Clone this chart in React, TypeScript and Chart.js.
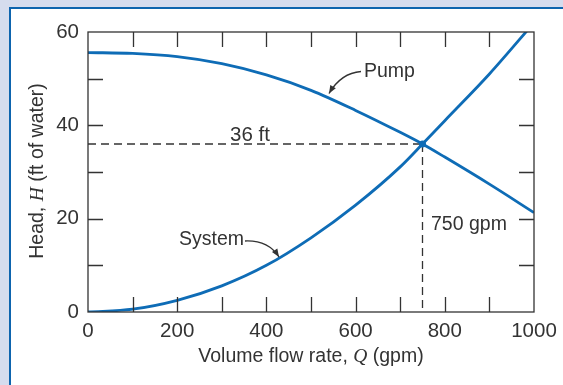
import React, { useEffect, useRef } from "react";
import { Chart, registerables } from "chart.js";

Chart.register(...registerables);

// ---- data ----
const flowQ = [0, 100, 200, 300, 400, 500, 600, 700, 750, 800, 900, 1000];
const pumpHead = [55.6, 55.4, 54.7, 53.2, 50.8, 47.5, 43.2, 38.5, 36.0, 33.2, 27.4, 21.3];
const systemHead = [0, 0.6, 2.5, 5.6, 10.0, 15.9, 22.9, 31.1, 36.0, 41.0, 51.0, 62.0];
const xTickValues = [0, 200, 400, 600, 800, 1000];
const yTickValues = [0, 20, 40, 60];
const xMarkTicks = [100, 200, 300, 400, 500, 600, 700, 800, 900];
const yMarkTicks = [10, 20, 30, 40, 50];
const operatingQ = 750;
const operatingH = 36;

const LINE = "#0e6cb6";
const INK = "#333333";
const SANS = "'Liberation Sans', Arial, sans-serif";
const SERIF = "'Liberation Serif', 'Times New Roman', serif";
const FS = 19.5;
const TFS = 20.5;

function arrow(ctx: CanvasRenderingContext2D, sx: number, sy: number, cx: number, cy: number, ex: number, ey: number) {
  ctx.beginPath();
  ctx.moveTo(sx, sy);
  ctx.quadraticCurveTo(cx, cy, ex, ey);
  ctx.stroke();
  const ang = Math.atan2(ey - cy, ex - cx);
  const len = 8, hw = 3.2;
  ctx.beginPath();
  ctx.moveTo(ex, ey);
  ctx.lineTo(ex - len * Math.cos(ang) + hw * Math.sin(ang), ey - len * Math.sin(ang) - hw * Math.cos(ang));
  ctx.lineTo(ex - len * Math.cos(ang) - hw * Math.sin(ang), ey - len * Math.sin(ang) + hw * Math.cos(ang));
  ctx.closePath();
  ctx.fill();
}

function mixed(ctx: CanvasRenderingContext2D, parts: [string, string][], cx: number, baseline: number) {
  let total = 0;
  for (const [t, f] of parts) {
    ctx.font = f;
    total += ctx.measureText(t).width;
  }
  let x = cx - total / 2;
  ctx.textAlign = "left";
  ctx.textBaseline = "alphabetic";
  for (const [t, f] of parts) {
    ctx.font = f;
    ctx.fillText(t, x, baseline);
    x += ctx.measureText(t).width;
  }
}

const decor = {
  id: "decor",
  beforeDraw(chart: any) {
    const { ctx, width, height } = chart;
    ctx.save();
    ctx.fillStyle = "#d5dcee";
    ctx.fillRect(0, 0, width, height);
    ctx.fillStyle = "#ffffff";
    ctx.fillRect(11, 9, width - 11, height - 9);
    ctx.fillStyle = "#0d64ae";
    ctx.fillRect(9, 7, width - 9, 2);
    ctx.fillRect(9, 7, 2, height - 7);
    ctx.restore();
  },
  beforeDatasetsDraw(chart: any) {
    const { ctx } = chart;
    const xs = chart.scales.x, ys = chart.scales.y;
    const px = xs.getPixelForValue(operatingQ);
    const py = ys.getPixelForValue(operatingH);
    ctx.save();
    ctx.strokeStyle = INK;
    ctx.lineWidth = 1.3;
    ctx.setLineDash([8, 5]);
    ctx.beginPath();
    ctx.moveTo(xs.left, py);
    ctx.lineTo(px, py);
    ctx.stroke();
    ctx.beginPath();
    ctx.moveTo(px, py);
    ctx.lineTo(px, ys.bottom);
    ctx.stroke();
    ctx.restore();
  },
  afterDraw(chart: any) {
    const { ctx } = chart;
    const xs = chart.scales.x, ys = chart.scales.y;
    const { left, right, top, bottom } = chart.chartArea;
    ctx.save();
    // frame
    ctx.strokeStyle = INK;
    ctx.lineWidth = 1.3;
    ctx.strokeRect(left, top, right - left, bottom - top);
    // inner ticks
    const tl = 15;
    ctx.beginPath();
    for (const v of xMarkTicks) {
      const p = Math.round(xs.getPixelForValue(v)) + 0.5;
      ctx.moveTo(p, bottom);
      ctx.lineTo(p, bottom - tl);
      ctx.moveTo(p, top);
      ctx.lineTo(p, top + tl);
    }
    for (const v of yMarkTicks) {
      const p = Math.round(ys.getPixelForValue(v)) + 0.5;
      ctx.moveTo(left, p);
      ctx.lineTo(left + tl, p);
      ctx.moveTo(right, p);
      ctx.lineTo(right - tl, p);
    }
    ctx.stroke();
    // operating point dot
    ctx.fillStyle = LINE;
    ctx.beginPath();
    ctx.arc(xs.getPixelForValue(operatingQ), ys.getPixelForValue(operatingH), 3.5, 0, Math.PI * 2);
    ctx.fill();
    // annotations
    ctx.fillStyle = INK;
    ctx.textBaseline = "alphabetic";
    ctx.textAlign = "center";
    ctx.font = `${TFS}px ${SANS}`;
    ctx.fillText(`${operatingH} ft`, 250, 141);
    ctx.textAlign = "left";
    ctx.font = `${FS}px ${SANS}`;
    ctx.fillText(`${operatingQ} gpm`, 431, 230);
    ctx.fillText("Pump", 364, 77);
    ctx.fillText("System", 179, 245);
    // arrows
    ctx.strokeStyle = INK;
    ctx.lineWidth = 1.3;
    arrow(ctx, 361, 71.5, 341, 73, 329, 93.5);
    arrow(ctx, 245, 241, 268, 240, 279, 257);
    // axis titles
    ctx.fillStyle = INK;
    mixed(ctx, [
      ["Volume flow rate, ", `${FS}px ${SANS}`],
      ["Q", `italic ${FS}px ${SERIF}`],
      [" (gpm)", `${FS}px ${SANS}`],
    ], 311, 362);
    ctx.save();
    ctx.translate(42.5, 171);
    ctx.rotate(-Math.PI / 2);
    mixed(ctx, [
      ["Head, ", `${FS}px ${SANS}`],
      ["H", `italic ${FS}px ${SERIF}`],
      [" (ft of water)", `${FS}px ${SANS}`],
    ], 0, 0);
    ctx.restore();
    ctx.restore();
  },
};

export default function App() {
  const ref = useRef<HTMLCanvasElement | null>(null);
  useEffect(() => {
    if (!ref.current) return;
    const chart = new Chart(ref.current, {
      type: "scatter",
      data: {
        datasets: [
          {
            label: "Pump",
            data: flowQ.map((q, i) => ({ x: q, y: pumpHead[i] })),
            showLine: true,
            borderColor: LINE,
            borderWidth: 2.8,
            pointRadius: 0,
            cubicInterpolationMode: "monotone",
          },
          {
            label: "System",
            data: flowQ.map((q, i) => ({ x: q, y: systemHead[i] })),
            showLine: true,
            borderColor: LINE,
            borderWidth: 2.8,
            pointRadius: 0,
            cubicInterpolationMode: "monotone",
          },
        ],
      },
      options: {
        responsive: false,
        animation: false,
        layout: { padding: { left: 0, top: 32, right: 29, bottom: 0 } },
        plugins: { legend: { display: false }, tooltip: { enabled: false } },
        scales: {
          x: {
            type: "linear",
            min: 0,
            max: 1000,
            afterFit: (s: any) => { s.height = 73; s.paddingLeft = 0; s.paddingRight = 0; },
            afterBuildTicks: (s: any) => { s.ticks = xTickValues.map((v) => ({ value: v })); },
            grid: { display: false, drawTicks: false },
            border: { display: false },
            ticks: {
              padding: 7,
              color: INK,
              font: { family: SANS, size: TFS },
              maxRotation: 0,
              callback: (v: any) => String(v),
            },
          },
          y: {
            type: "linear",
            min: 0,
            max: 60,
            afterFit: (s: any) => { s.width = 88; s.paddingTop = 0; s.paddingBottom = 0; },
            afterBuildTicks: (s: any) => { s.ticks = yTickValues.map((v) => ({ value: v })); },
            grid: { display: false, drawTicks: false },
            border: { display: false },
            ticks: {
              padding: 9,
              color: INK,
              font: { family: SANS, size: TFS },
              callback: (v: any) => String(v),
            },
          },
        },
      },
      plugins: [decor],
    } as any);
    return () => chart.destroy();
  }, []);
  return (
    <div style={{ position: "fixed", left: 0, top: 0, width: 563, height: 385 }}>
      <canvas ref={ref} width={563} height={385} style={{ display: "block" }} />
    </div>
  );
}
